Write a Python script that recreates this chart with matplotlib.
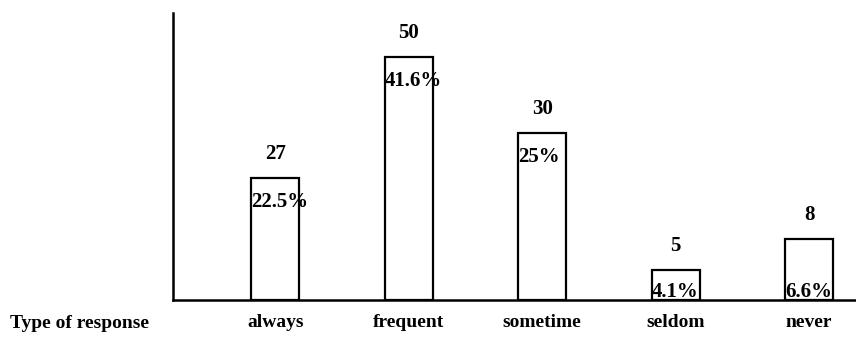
import matplotlib.pyplot as plt

# response categories and counts
categories = ['always', 'frequent', 'sometime', 'seldom', 'never']
counts = [27, 50, 30, 5, 8]
percents = ['22.5%', '41.6%', '25%', '4.1%', '6.6%']
# bar heights as drawn in the original (hand drawn, not exactly to scale)
bar_heights = [25.1, 50, 34.4, 6.2, 12.6]
axis_title = 'Type of response'

plt.rcParams['font.family'] = ['Liberation Serif', 'DejaVu Serif']

fig = plt.figure(figsize=(8.56, 3.48), dpi=100)
ax = fig.add_axes([0.202, 0.138, 0.798, 0.825])

x = list(range(len(categories)))
bars = ax.bar(x, bar_heights, width=0.36, color='white', edgecolor='black', linewidth=1.6)

ax.set_xlim(-0.768, 4.352)
ax.set_ylim(0, 59.05)

for spine in ['top', 'right']:
    ax.spines[spine].set_visible(False)
for spine in ['left', 'bottom']:
    ax.spines[spine].set_linewidth(1.8)
ax.set_yticks([])
ax.set_xticks(x)
ax.set_xticklabels(categories, fontsize=14, fontweight='bold')
ax.tick_params(axis='x', length=0, pad=10)

# count above each bar, percentage just inside the top (or at the base for short bars)
for b, n, p in zip(bars, counts, percents):
    top = b.get_height()
    ax.annotate(str(n), (b.get_x() + b.get_width() / 2, top), xytext=(0, 17),
                textcoords='offset points', ha='center', va='center',
                fontsize=15, fontweight='bold')
    ypos = top - 5.0 if top > 15 else 1.6
    ax.text(b.get_x(), ypos, p, ha='left', va='center', fontsize=15, fontweight='bold')

fig.text(10 / 856, 1 - 323 / 348, axis_title, ha='left', va='center',
         fontsize=14, fontweight='bold')

fig.savefig('out.png', dpi=100)
